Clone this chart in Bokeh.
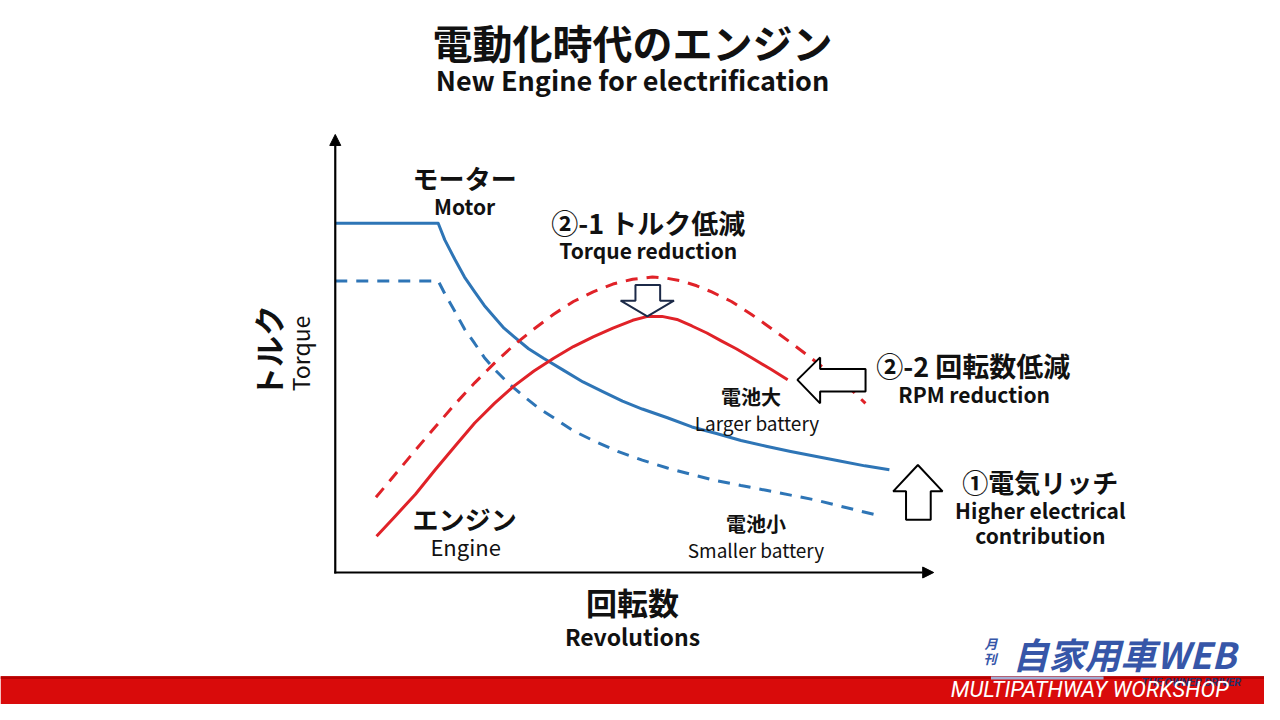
from bokeh.plotting import figure
from bokeh.models import Range1d, Arrow, NormalHead
from bokeh.core.properties import value
from bokeh.embed import file_html
from bokeh.resources import INLINE
import math

# ---------------- data (chart units: revolutions 0-100, torque 0-100) ----------------
# Motor torque, larger battery (solid blue)
motor_large_x = [0, 17.2, 18.3, 20.0, 21.6, 23.3, 24.9, 26.6, 28.2, 29.9, 32.3, 34.8, 38.1, 41.4,
                 44.7, 48.0, 51.3, 55.5, 59.6, 63.7, 67.8, 72.0, 76.1, 80.2, 84.3, 88.5, 92.6]
motor_large_y = [79.9, 79.9, 76.1, 71.6, 67.6, 64.2, 61.1, 58.4, 55.9, 53.9, 51.2, 49.0, 46.3, 43.6,
                 41.4, 39.2, 37.4, 35.4, 33.3, 31.8, 30.2, 28.9, 27.7, 26.6, 25.5, 24.4, 23.5]

# Motor torque, smaller battery (dashed blue)
motor_small_x = [0, 17.2, 18.3, 20.0, 21.6, 23.3, 24.9, 26.6, 29.0, 31.5, 34.0, 36.5, 39.8, 43.1,
                 47.2, 51.3, 55.5, 59.6, 63.7, 67.8, 72.0, 76.1, 80.2, 84.3, 87.6, 90.9]
motor_small_y = [66.7, 66.7, 63.8, 59.7, 55.7, 52.4, 49.2, 46.5, 43.2, 40.3, 37.6, 35.4, 32.4, 30.2,
                 27.7, 25.7, 23.9, 22.4, 21.0, 19.9, 18.8, 17.7, 16.6, 15.2, 14.1, 13.0]

# New engine (solid red)
engine_new_x = [6.9, 10.1, 13.4, 16.7, 20.0, 23.3, 26.6, 29.9, 33.2, 36.5, 39.8, 43.1, 46.4, 49.7,
                52.2, 54.6, 57.1, 59.6, 62.1, 64.5, 67.0, 69.5, 72.8, 75.6]
engine_new_y = [8.3, 13.0, 17.9, 23.5, 28.9, 34.2, 38.7, 42.7, 46.1, 49.0, 51.7, 53.9, 55.9, 57.7,
                58.6, 58.6, 57.9, 56.4, 54.8, 53.0, 51.2, 49.2, 46.5, 44.1]

# Conventional engine (dashed red)
engine_old_x = [6.8, 10.1, 13.4, 16.7, 20.0, 23.3, 26.6, 29.9, 33.2, 36.5, 39.8, 43.1, 46.4, 49.7,
                53.0, 55.5, 57.9, 60.4, 62.9, 66.2, 69.5, 72.8, 76.1, 79.4, 82.7, 86.0, 88.6]
engine_old_y = [17.2, 22.6, 28.0, 33.3, 38.5, 43.4, 47.9, 52.1, 55.7, 59.1, 62.0, 64.2, 66.0, 67.1,
                67.6, 67.3, 66.7, 65.6, 64.2, 62.0, 59.1, 55.9, 52.6, 49.2, 45.6, 42.1, 38.7]

# ---------------- reference-page <-> chart mapping (layout only) ----------------
OX, OY = 339.0, 585.0      # origin in reference pixels
SX, SY = 6.06, 4.47        # reference pixels per chart unit


def X(px):
    return (px - OX) / SX


def Y(py):
    return (OY - py) / SY


BLUE = "#2E75B6"
RED = "#E02228"
JP = "Noto Sans CJK JP"

p = figure(width=1264, height=704,
           x_range=Range1d(X(0), X(1280)), y_range=Range1d(Y(720), Y(0)),
           x_axis_type=None, y_axis_type=None,
           toolbar_location=None, output_backend="svg",
           min_border=0, outline_line_color=None)
p.grid.visible = False
p.background_fill_color = "white"
p.border_fill_color = "white"

# axes with arrow heads
p.add_layout(Arrow(end=NormalHead(size=11, fill_color="black", line_color="black", line_width=1),
                   x_start=X(338), y_start=0, x_end=X(945), y_end=0,
                   line_width=2.2, line_color="black"))
p.add_layout(Arrow(end=NormalHead(size=11, fill_color="black", line_color="black", line_width=1),
                   x_start=0, y_start=Y(586), x_end=0, y_end=Y(137),
                   line_width=2.2, line_color="black"))

# curves
p.line(motor_large_x, motor_large_y, line_color=BLUE, line_width=3, line_join="round")
p.line(motor_small_x, motor_small_y, line_color=BLUE, line_width=3, line_dash="12 9")
p.line(engine_old_x, engine_old_y, line_color=RED, line_width=3, line_dash="12 9")
p.line(engine_new_x, engine_new_y, line_color=RED, line_width=3, line_join="round")


# block arrows (layout shapes, reference pixels -> chart units)
def block_arrow(pts, color):
    xs = [X(a) for a, b in pts]
    ys = [Y(b) for a, b in pts]
    p.patch(xs, ys, fill_color="white", line_color=color, line_width=2)


block_arrow([(643, 291), (668, 291), (668, 307), (682, 307), (655, 323),
             (628, 307), (643, 307)], "#1c2a48")
block_arrow([(807, 388), (830, 365), (830, 377), (876, 377), (876, 400),
             (830, 400), (830, 412)], "black")
block_arrow([(929, 475), (954, 502), (942, 502), (942, 531), (917, 531),
             (917, 502), (904, 502)], "black")


def label(txt, px, py, size, bold=True, angle=0.0, color="#111111", font=JP,
          italic=False, align="center"):
    style = "bold" if bold else "normal"
    if italic:
        style = "bold italic" if bold else "italic"
    p.text(x=[X(px)], y=[Y(py)], text=[txt], text_font=value(font),
           text_font_size=f"{size}px", text_font_style=style,
           text_align=align, text_baseline="middle", angle=angle,
           text_color=color)


# titles
label("電動化時代のエンジン", 640, 42, 40)
label("New Engine for electrification", 640, 81, 27)

# annotations
label("モーター", 470, 181, 26)
label("Motor", 470, 210, 21)
label("②-1 トルク低減", 656, 227, 27)
label("Torque reduction", 656, 255, 21)
label("②-2 回転数低減", 985, 373, 27)
label("RPM reduction", 986, 402, 21)
label("電池大", 760, 405, 20)
label("Larger battery", 766, 432, 19, bold=False)
label("①電気リッチ", 1053, 492, 26)
label("Higher electrical", 1053, 521, 21)
label("contribution", 1053, 547, 21)
label("エンジン", 470, 530, 26)
label("Engine", 471, 558, 22, bold=False)
label("電池小", 765, 535, 20)
label("Smaller battery", 765, 561, 19, bold=False)

# axis titles
label("トルク", 270, 359, 31, angle=math.pi / 2)
label("Torque", 303, 361, 23, angle=math.pi / 2, bold=False)
label("回転数", 640, 615, 31)
label("Revolutions", 640, 650, 23)

# footer band and logo
p.quad(left=[X(0)], right=[X(1280)], top=[Y(691)], bottom=[Y(720)],
       fill_color="#D90B0B", line_color=None)
p.quad(left=[X(0)], right=[X(1280)], top=[Y(691)], bottom=[Y(694)],
       fill_color="#B80000", line_color=None)
label("月", 1003, 658, 13, color="#3656A8", italic=True)
label("刊", 1002, 673, 13, color="#3656A8", italic=True)
label("自家用車WEB", 1138, 667, 36, color="#3656A8", italic=True)
p.line([X(1003), X(1117)], [Y(693), Y(693)], line_color="#a4aed4", line_width=3)
label("THE OWNER DRIVER", 1206, 697, 11, color="#27306a", italic=True, font="Roboto")
label("MULTIPATHWAY WORKSHOP", 1103, 705, 22, bold=False, color="white", italic=True,
      font="Roboto")

open("out.html", "w").write(file_html(p, INLINE))
